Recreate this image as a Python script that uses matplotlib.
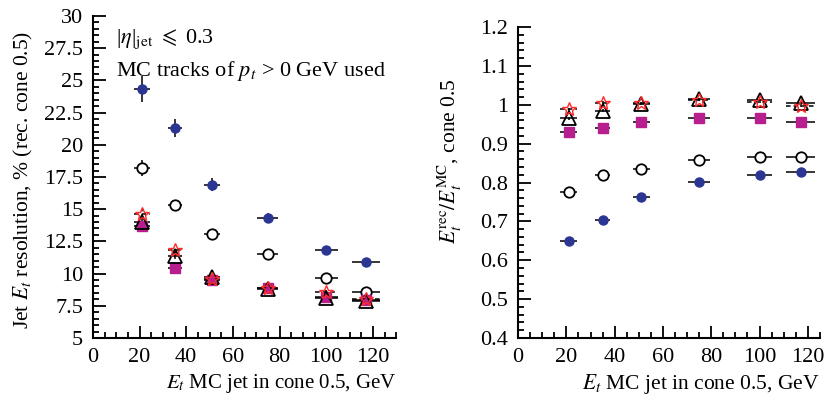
import numpy as np
import matplotlib.pyplot as plt
from matplotlib.ticker import MultipleLocator

plt.rcParams['font.family'] = 'Liberation Serif'
plt.rcParams['mathtext.fontset'] = 'stix'
plt.rcParams['font.size'] = 12

# energia del jet MC (GeV) y semiancho de los bines
et = np.array([21, 35, 51, 75, 100, 117])
et_err = np.array([3.5, 3.0, 3.5, 4.5, 5.0, 6.0])

# resolucion en %, cono 0.5
res_azul = [24.3, 21.3, 16.9, 14.3, 11.8, 10.9]
res_azul_err = [1.0, 0.7, 0.5, 0.4, 0.3, 0.2]
res_circ = [18.2, 15.3, 13.1, 11.5, 9.65, 8.6]
res_circ_err = [0.6, 0.4, 0.3, 0.2, 0.15, 0.1]
res_cuad = [13.7, 10.4, 9.5, 8.9, 8.2, 7.95]
res_cuad_err = [0.4, 0.3, 0.2, 0.15, 0.1, 0.1]
res_tri = [14.0, 11.4, 9.7, 8.8, 8.1, 7.9]
res_tri_err = [0.4, 0.3, 0.2, 0.15, 0.1, 0.1]
res_est = [14.6, 11.8, 9.6, 8.9, 8.6, 8.0]
res_est_err = [0.4, 0.3, 0.2, 0.15, 0.1, 0.1]

# escala E_rec / E_MC
esc_azul = [0.650, 0.703, 0.762, 0.802, 0.820, 0.828]
esc_circ = [0.775, 0.820, 0.835, 0.858, 0.865, 0.865]
esc_cuad = [0.930, 0.940, 0.955, 0.965, 0.965, 0.957]
esc_tri = [0.965, 0.985, 1.003, 1.015, 1.012, 1.005]
esc_est = [0.988, 1.005, 1.005, 1.013, 1.007, 0.998]
esc_err = [0.004, 0.004, 0.003, 0.003, 0.003, 0.003]

azul = '#2b3592'
magenta = '#b81f8e'
rojo = '#ff2a2a'
fs = 16


def series(ax, ys, yerrs):
    (y1, y2, y3, y4, y5) = ys
    (e1, e2, e3, e4, e5) = yerrs
    kw = dict(xerr=et_err, ecolor='black', elinewidth=1.1, capsize=0, ls='none')
    ax.errorbar(et, y1, yerr=e1, fmt='o', ms=6.5, mfc=azul, mec=azul, **kw)
    ax.errorbar(et, y2, yerr=e2, fmt='o', ms=7.5, mfc='white', mec='black', mew=1.3, **kw)
    ax.errorbar(et, y3, yerr=e3, fmt='s', ms=6.5, mfc=magenta, mec=magenta, **kw)
    ax.errorbar(et, y4, yerr=e4, fmt='^', ms=9.5, mfc='none', mec='black', mew=1.3, **kw)
    l = ax.errorbar(et, y5, yerr=e5, fmt='*', ms=10, mfc='none', mec=rojo, mew=1.0, **kw)
    for c in l[2]:
        c.set_linestyle((0, (3, 2)))


def estilo(ax):
    ax.spines['top'].set_visible(False)
    ax.spines['right'].set_visible(False)
    ax.spines['left'].set_linewidth(1.5)
    ax.spines['bottom'].set_linewidth(1.5)
    ax.tick_params(which='both', direction='in', width=1.3, labelsize=fs, pad=7)
    ax.tick_params(which='major', length=9)
    ax.tick_params(which='minor', length=4.5)
    ax.xaxis.set_major_locator(MultipleLocator(20))
    ax.xaxis.set_minor_locator(MultipleLocator(5))


fig = plt.figure(figsize=(8.29, 3.99), dpi=100)

ax1 = fig.add_axes([0.112, 0.153, 0.366, 0.807])
series(ax1, (res_azul, res_circ, res_cuad, res_tri, res_est),
       (res_azul_err, res_circ_err, res_cuad_err, res_tri_err, res_est_err))
ax1.set_xlim(0, 130)
ax1.set_ylim(5, 30)
ax1.yaxis.set_major_locator(MultipleLocator(2.5))
ax1.yaxis.set_minor_locator(MultipleLocator(0.5))
ax1.yaxis.set_major_formatter(plt.FuncFormatter(lambda v, p: '{:g}'.format(v)))
estilo(ax1)
ax1.set_ylabel('Jet $E_t$ resolution, % (rec. cone 0.5)', fontsize=15.5)
ax1.yaxis.set_label_coords(-0.19, 0.49)
ax1.set_xlabel('$E_t$ MC jet in cone 0.5, GeV', fontsize=15, loc='right', labelpad=4)
ax1.text(0.075, 0.965, r'|$\eta$|$_{\rm jet}$ $\leqslant$ 0.3', transform=ax1.transAxes,
         fontsize=fs, va='top')
ax1.text(0.075, 0.865, 'MC tracks of $p_t$ > 0 GeV used', transform=ax1.transAxes,
         fontsize=fs, va='top')

ax2 = fig.add_axes([0.625, 0.153, 0.364, 0.779])
series(ax2, (esc_azul, esc_circ, esc_cuad, esc_tri, esc_est),
       (esc_err, esc_err, esc_err, esc_err, esc_err))
ax2.set_xlim(0, 125)
ax2.set_ylim(0.4, 1.2)
ax2.yaxis.set_major_locator(MultipleLocator(0.1))
ax2.yaxis.set_minor_locator(MultipleLocator(0.02))
ax2.yaxis.set_major_formatter(plt.FuncFormatter(lambda v, p: '{:g}'.format(round(v, 2))))
estilo(ax2)
ax2.set_ylabel(r'$E_t^{\rm rec}/E_t^{\rm MC}$, cone 0.5', fontsize=15.5)
ax2.yaxis.set_label_coords(-0.18, 0.57)
ax2.set_xlabel('$E_t$ MC jet in cone 0.5, GeV', fontsize=15.5, loc='right', labelpad=4)

plt.savefig('out.png', dpi=100)
